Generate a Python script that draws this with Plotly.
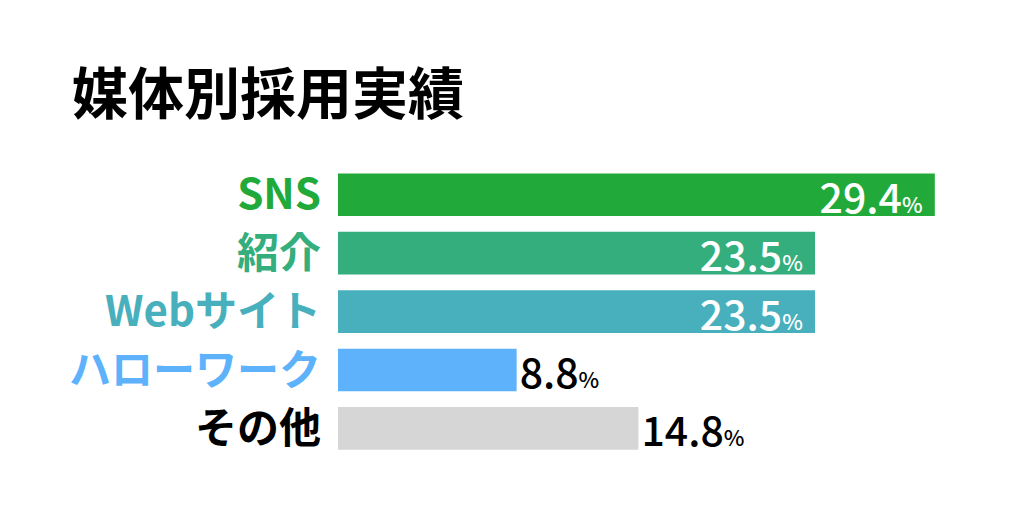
import plotly.graph_objects as go

# data
categories = ["SNS", "紹介", "Webサイト", "ハローワーク", "その他"]
values = [29.4, 23.5, 23.5, 8.8, 14.8]
bar_colors = ["#21AA3A", "#33AE7C", "#48B0BD", "#5EB2FC", "#D6D6D6"]
label_colors = ["#21AA3A", "#33AE7C", "#48B0BD", "#5EB2FC", "#000000"]

FONT = "Noto Sans CJK JP"
OFF = 8  # page body margin

fig = go.Figure()

fig.add_trace(go.Bar(
    x=values,
    y=categories,
    orientation="h",
    marker=dict(color=bar_colors, line=dict(width=0)),
    width=0.73,
    text=[f"{v}<span style='font-size:22px'>%</span>&nbsp;" if v > 20 else f"{v}<span style='font-size:22px'>%</span>" for v in values],
    texttemplate="%{text}",
    textposition=["inside", "inside", "inside", "outside", "outside"],
    insidetextanchor="end",
    insidetextfont=dict(family=FONT, size=41, color="white", weight=500),
    outsidetextfont=dict(family=FONT, size=41, color="black", weight=500),
    constraintext="none",
    cliponaxis=False,
    hoverinfo="skip",
))

ticktext = [f"<span style='color:{c}'><b>{t}</b></span>" for t, c in zip(categories, label_colors)]

x0 = 338 - OFF
fig.update_layout(
    width=1024,
    height=512,
    margin=dict(l=0, r=0, t=0, b=0),
    paper_bgcolor="white",
    plot_bgcolor="white",
    showlegend=False,
    title=dict(
        text="<b>媒体別採用実績</b>",
        x=(72 - OFF) / 1024, xanchor="left",
        y=1 - (94 - OFF) / 512, yanchor="middle",
        font=dict(family=FONT, size=56, color="black"),
    ),
    xaxis=dict(
        domain=[x0 / 1024, 1],
        range=[0, (1024 - x0) / 20.3],
        visible=False,
    ),
    yaxis=dict(
        domain=[(512 - (457 - OFF)) / 512, (512 - (162 - OFF)) / 512],
        autorange="reversed",
        tickmode="array",
        tickvals=categories,
        ticktext=ticktext,
        tickfont=dict(family=FONT, size=42),
        showgrid=False,
        zeroline=False,
        showline=False,
        ticks="",
        ticklabelstandoff=16,
    ),
)

fig.write_html("out.html")
